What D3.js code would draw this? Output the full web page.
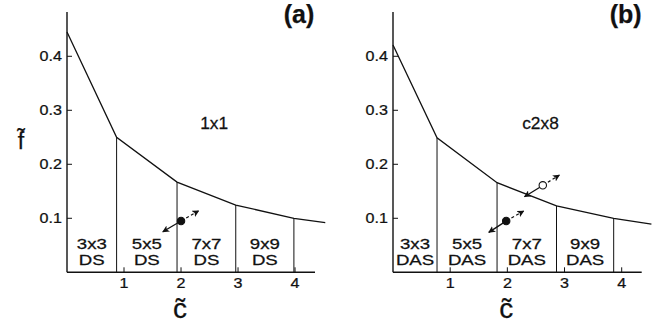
<!DOCTYPE html>
<html>
<head>
<meta charset="utf-8">
<script src="https://cdn.jsdelivr.net/npm/d3@7"></script>
<style>
  body { margin: 0; background: #fff; }
  text { font-family: "Liberation Sans", Arial, Helvetica, sans-serif; fill: #111; stroke: #111; stroke-width: 0.25px; }
</style>
</head>
<body>
<div id="chart"></div>
<script>
// panel (a) 1x1 : boundary curve c~ vs f~
var a_c = [0, 0.87, 1.93, 2.96, 3.98, 4.53];
var a_f = [0.445, 0.25, 0.167, 0.1245, 0.1, 0.092];
var a_cells = ["3x3", "5x5", "7x7", "9x9"];
var a_kind = "DS";

// panel (b) c2x8
var b_c = [0, 0.77, 1.82, 2.86, 3.86, 4.52];
var b_f = [0.421, 0.249, 0.166, 0.123, 0.1, 0.0894];
var b_cells = ["3x3", "5x5", "7x7", "9x9"];
var b_kind = "DAS";

// markers: [c, f, solid arrow end c, f, dashed arrow end c, f]
var a_dots = [[2.0, 0.095, 1.68, 0.075, 2.31, 0.114, "filled"]];
var b_dots = [[1.98, 0.095, 1.675, 0.074, 2.286, 0.1135, "filled"],
              [2.62, 0.161, 2.30, 0.14, 2.91, 0.18, "open"]];

var xTicks = [1, 2, 3, 4];
var yTicks = [0.1, 0.2, 0.3, 0.4];

var width = 665, height = 327;

var svg = d3.select("#chart").append("svg")
    .attr("width", width)
    .attr("height", height);

var defs = svg.append("defs");
defs.append("marker")
    .attr("id", "head")
    .attr("viewBox", "0 0 10 10")
    .attr("refX", 9).attr("refY", 5)
    .attr("markerWidth", 7).attr("markerHeight", 7)
    .attr("markerUnits", "userSpaceOnUse")
    .attr("orient", "auto")
  .append("path")
    .attr("d", "M0,0 L10,5 L0,10 L2.5,5 Z")
    .attr("fill", "#111");

// text stretched a bit sideways, like the scanned figure
function wide(g, tx, ty, size, sx, str, anchor){
  return g.append("text")
      .attr("transform", "translate(" + tx + "," + ty + ") scale(" + sx + ",1)")
      .attr("text-anchor", anchor || "middle")
      .style("font-size", size + "px")
      .text(str);
}

function draw_panel(left, right, cs, fs, cells, kind, dots, tag, name, showF){
  var x = d3.scaleLinear().domain([0, 4.35]).range([left, right]);
  var y = d3.scaleLinear().domain([0, 0.482]).range([272.3, 12]);
  var g = svg.append("g");

  // axes
  g.append("line")
      .attr("x1", x(0)).attr("x2", x(0))
      .attr("y1", y(0.482)).attr("y2", y(0))
      .attr("stroke", "#111").attr("stroke-width", 1.4);
  g.append("line")
      .attr("x1", x(0)).attr("x2", x(4.35))
      .attr("y1", y(0)).attr("y2", y(0))
      .attr("stroke", "#111").attr("stroke-width", 1.4);

  g.selectAll(".xt").data(xTicks).enter().append("line")
      .attr("x1", function(d){ return x(d); }).attr("x2", function(d){ return x(d); })
      .attr("y1", y(0)).attr("y2", y(0) - 5)
      .attr("stroke", "#111").attr("stroke-width", 1);
  xTicks.forEach(function(d){ wide(g, x(d), 288, 14, 1.15, d); });

  g.selectAll(".yt").data(yTicks).enter().append("line")
      .attr("x1", x(0)).attr("x2", x(0) + 5)
      .attr("y1", function(d){ return y(d); }).attr("y2", function(d){ return y(d); })
      .attr("stroke", "#111").attr("stroke-width", 1);
  yTicks.forEach(function(d){ wide(g, x(0) - 5, y(d) + 5, 14, 1.15, d3.format(".1f")(d), "end"); });

  // boundary curve
  var pts = cs.map(function(c, i){ return [c, fs[i]]; });
  g.append("path")
      .datum(pts)
      .attr("fill", "none")
      .attr("stroke", "#111")
      .attr("stroke-width", 1.3)
      .attr("d", d3.line().x(function(d){ return x(d[0]); }).y(function(d){ return y(d[1]); }));

  // vertical cell walls
  g.selectAll(".wall").data(pts.slice(1, 5)).enter().append("line")
      .attr("x1", function(d){ return x(d[0]); }).attr("x2", function(d){ return x(d[0]); })
      .attr("y1", function(d){ return y(d[1]); }).attr("y2", y(0))
      .attr("stroke", "#111").attr("stroke-width", 1);

  // cell labels
  cells.forEach(function(lab, i){
    var mid = (cs[i] + cs[i + 1]) / 2;
    wide(g, x(mid), 249, 13.8, 1.35, lab);
    wide(g, x(mid), 264.5, 13.8, 1.35, kind);
  });

  wide(g, x(2.58), 129, 16.5, 1.05, name);
  g.append("text").attr("x", right - 16).attr("y", 23)
      .attr("text-anchor", "middle").style("font-size", "25px")
      .style("font-weight", "bold").text(tag);

  // axis titles
  var cx = x(1.98);
  g.append("text").attr("x", cx).attr("y", 318)
      .attr("text-anchor", "middle").style("font-size", "28px").text("c\u0303");
  if (showF) {
    g.append("text").attr("x", 21).attr("y", 149)
        .attr("text-anchor", "middle").style("font-size", "23px").text("f\u0303");
  }

  // moving points with arrows
  dots.forEach(function(d){
    var px = x(d[0]), py = y(d[1]);
    var sx = x(d[2]), sy = y(d[3]);
    var ex = x(d[4]), ey = y(d[5]);
    var ds = Math.hypot(sx - px, sy - py), de = Math.hypot(ex - px, ey - py);
    g.append("line")
        .attr("x1", px + (sx - px) * 3 / ds).attr("y1", py + (sy - py) * 3 / ds)
        .attr("x2", sx).attr("y2", sy)
        .attr("stroke", "#111").attr("stroke-width", 1.3)
        .attr("marker-end", "url(#head)");
    g.append("line")
        .attr("x1", px + (ex - px) * 6 / de).attr("y1", py + (ey - py) * 6 / de)
        .attr("x2", ex).attr("y2", ey)
        .attr("stroke", "#111").attr("stroke-width", 1.2)
        .attr("stroke-dasharray", "3,2.5")
        .attr("marker-end", "url(#head)");
    g.append("circle")
        .attr("cx", px).attr("cy", py).attr("r", 3.7)
        .attr("fill", d[6] == "filled" ? "#111" : "#fff")
        .attr("stroke", "#111").attr("stroke-width", 1.1);
  });
}

draw_panel(67, 315, a_c, a_f, a_cells, a_kind, a_dots, "(a)", "1x1", true);
draw_panel(393, 641.7, b_c, b_f, b_cells, b_kind, b_dots, "(b)", "c2x8", false);
</script>
</body>
</html>
